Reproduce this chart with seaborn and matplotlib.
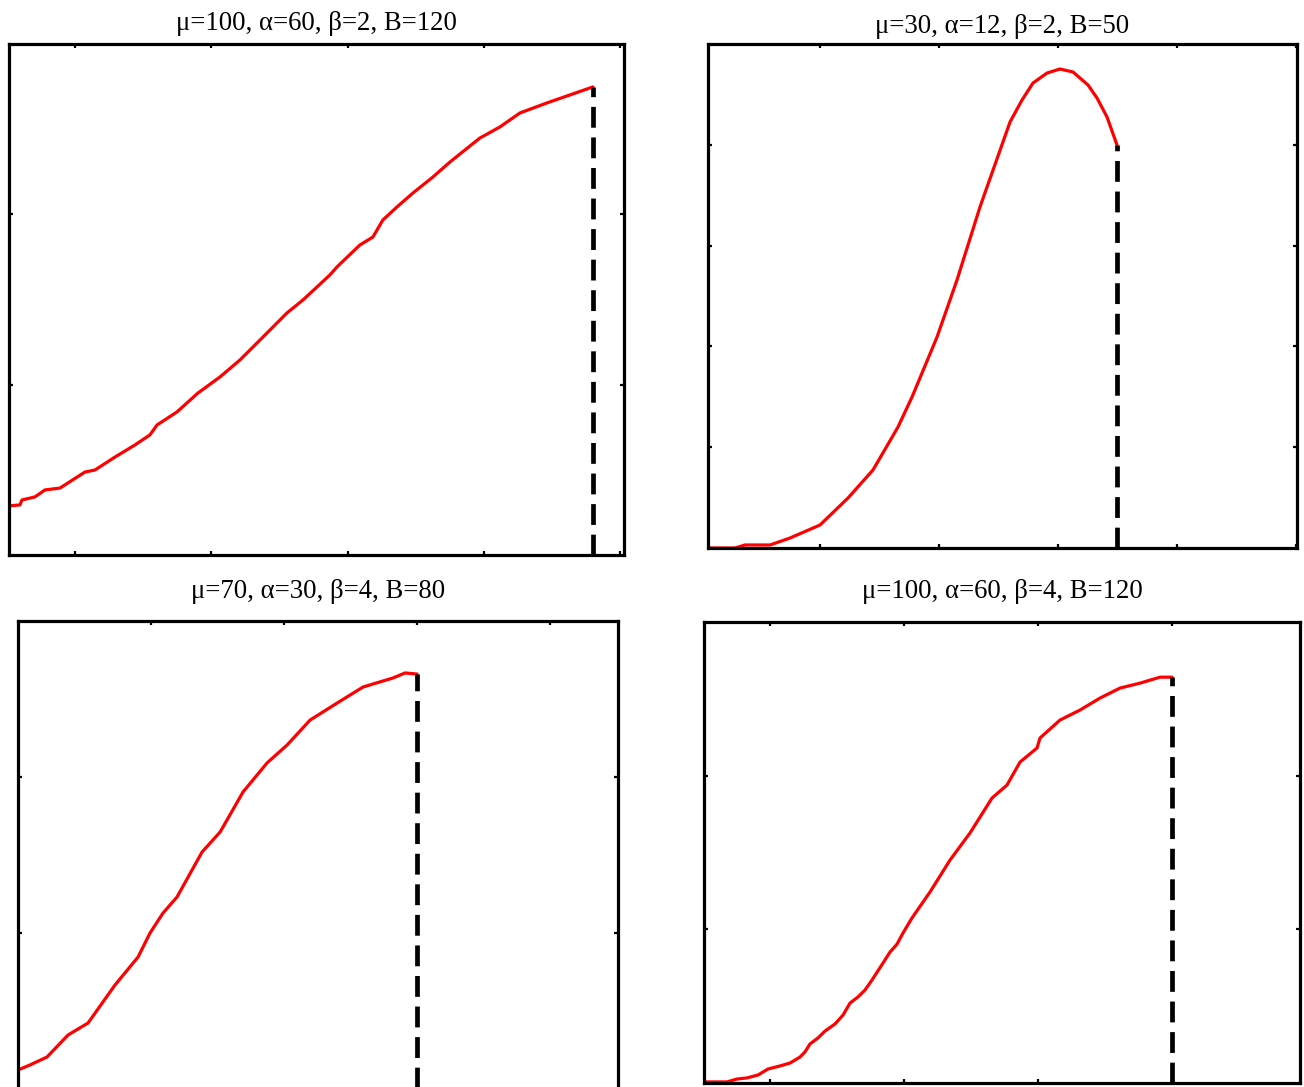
import matplotlib
matplotlib.use("Agg")
import matplotlib.pyplot as plt
import seaborn as sns
import pandas as pd

sns.set_theme(style="white")
plt.rcParams["font.family"] = ["Liberation Serif", "DejaVu Serif"]
plt.rcParams["lines.scale_dashes"] = False

# ---- titles and budgets -------------------------------------------------
titles = [
    "μ=100, α=60, β=2, B=120",
    "μ=30, α=12, β=2, B=50",
    "μ=70, α=30, β=4, B=80",
    "μ=100, α=60, β=4, B=120",
]
budgets = [120, 50, 80, 120]

# ---- panel 1 : μ=100, α=60, β=2, B=120 -----------------------------------
x1 = [12.90, 14.91, 15.28, 17.66, 19.50, 22.25, 26.83, 28.67, 32.34, 36.00,
      38.75, 40.04, 43.71, 47.56, 51.59, 55.26, 58.93, 63.88, 66.81, 71.76,
      73.05, 77.26, 79.65, 81.48, 84.05, 86.98, 90.65, 93.77, 99.27, 102.94,
      106.61, 111.56, 115.78, 120.0]
y1 = [0.288, 0.294, 0.323, 0.341, 0.382, 0.393, 0.487, 0.499, 0.575, 0.646,
      0.705, 0.763, 0.840, 0.951, 1.045, 1.145, 1.262, 1.421, 1.497, 1.644,
      1.691, 1.820, 1.867, 1.967, 2.043, 2.125, 2.219, 2.307, 2.448, 2.513,
      2.595, 2.654, 2.701, 2.748]

# ---- panel 2 : μ=30, α=12, β=2, B=50 -------------------------------------
x2 = [-18.74, -14.20, -12.52, -8.32, -4.96, 0.08, 4.79, 8.99, 13.19, 15.55,
      19.75, 23.11, 26.97, 32.02, 34.03, 35.88, 38.24, 40.42, 42.61, 45.13,
      46.64, 48.32, 50.0]
y2 = [0.0, 0.0, 0.030, 0.030, 0.099, 0.228, 0.496, 0.774, 1.200, 1.498,
      2.093, 2.659, 3.383, 4.226, 4.444, 4.613, 4.712, 4.752, 4.722, 4.593,
      4.464, 4.276, 3.998]

# ---- panel 3 : μ=70, α=30, β=4, B=80 -------------------------------------
x3 = [20.00, 21.80, 24.36, 27.52, 30.53, 34.59, 38.05, 39.85, 41.80, 43.91,
      47.67, 50.38, 53.83, 57.44, 60.45, 63.91, 67.97, 71.88, 76.39, 78.20,
      80.0]
y3 = [0.122, 0.154, 0.205, 0.346, 0.423, 0.667, 0.846, 1.000, 1.128, 1.231,
      1.519, 1.647, 1.904, 2.090, 2.205, 2.365, 2.474, 2.577, 2.635, 2.667,
      2.660]

# ---- panel 4 : μ=100, α=60, β=4, B=120 -----------------------------------
x4 = [50.15, 53.58, 55.07, 56.57, 58.21, 59.70, 61.49, 62.99, 64.48, 65.22,
      65.97, 67.16, 68.21, 69.70, 70.90, 71.94, 73.13, 74.18, 75.22, 76.87,
      77.91, 78.96, 79.85, 81.19, 83.88, 86.87, 89.85, 93.13, 95.37, 97.31,
      99.85, 100.30, 103.28, 106.27, 109.25, 112.24, 115.22, 118.21, 120.0]
y4 = [0.007, 0.007, 0.026, 0.033, 0.052, 0.091, 0.111, 0.130, 0.169, 0.202,
      0.254, 0.293, 0.338, 0.384, 0.442, 0.520, 0.560, 0.605, 0.670, 0.781,
      0.852, 0.904, 0.976, 1.074, 1.243, 1.451, 1.627, 1.854, 1.939, 2.088,
      2.180, 2.245, 2.362, 2.427, 2.505, 2.570, 2.602, 2.641, 2.641]

xs = [x1, x2, x3, x4]
ys = [y1, y2, y3, y4]

# axis ranges and tick positions (no tick labels in the figure)
xlims = [(12.90, 125.7), (-18.74, 80.25), (20.0, 110.2), (50.15, 139.1)]
ylims = [(0.0, 3.0), (0.0, 5.0), (-0.0128, 3.0), (0.0, 3.0)]
xticks = [[25, 50, 75, 100, 125], [0, 20, 40, 60, 80],
          [40, 60, 80, 100], [60, 80, 100, 120]]
yticks = [[1, 2], [1, 2, 3, 4], [1, 2], [1, 2]]

# ---- layout ----------------------------------------------------------------
W, H = 1304, 1087
boxes_px = [  # left, top, right, bottom in pixels
    (9, 44, 624, 555),
    (708, 44, 1297, 548),
    (18, 621, 618, 1091),
    (704, 622, 1300, 1083),
]
title_pads = [10, 8, 16.5, 17]

fig = plt.figure(figsize=(W / 100, H / 100), dpi=100)
fig.patch.set_facecolor("white")

for i in range(4):
    l, t, r, b = boxes_px[i]
    ax = fig.add_axes([l / W, (H - b) / H, (r - l) / W, (b - t) / H])
    df = pd.DataFrame({"x": xs[i], "y": ys[i]})
    sns.lineplot(data=df, x="x", y="y", ax=ax, color="#ff0000",
                 linewidth=2.3, estimator=None, sort=False)
    ax.plot([budgets[i], budgets[i]], [ylims[i][0], ys[i][-1]],
            color="black", linewidth=3.4, dashes=(15, 7), zorder=3)
    ax.set_xlim(*xlims[i])
    ax.set_ylim(*ylims[i])
    ax.set_xticks(xticks[i])
    ax.set_yticks(yticks[i])
    ax.tick_params(direction="in", length=3, width=1.6, color="black",
                   top=True, right=True, bottom=True, left=True,
                   labelbottom=False, labelleft=False)
    ax.set_xlabel("")
    ax.set_ylabel("")
    for sp in ax.spines.values():
        sp.set_visible(True)
        sp.set_linewidth(2.3)
        sp.set_color("black")
    ax.set_facecolor("white")
    ax.set_title(titles[i], fontsize=19.3, pad=title_pads[i], color="black")

fig.savefig("out.png", dpi=100, facecolor="white")
